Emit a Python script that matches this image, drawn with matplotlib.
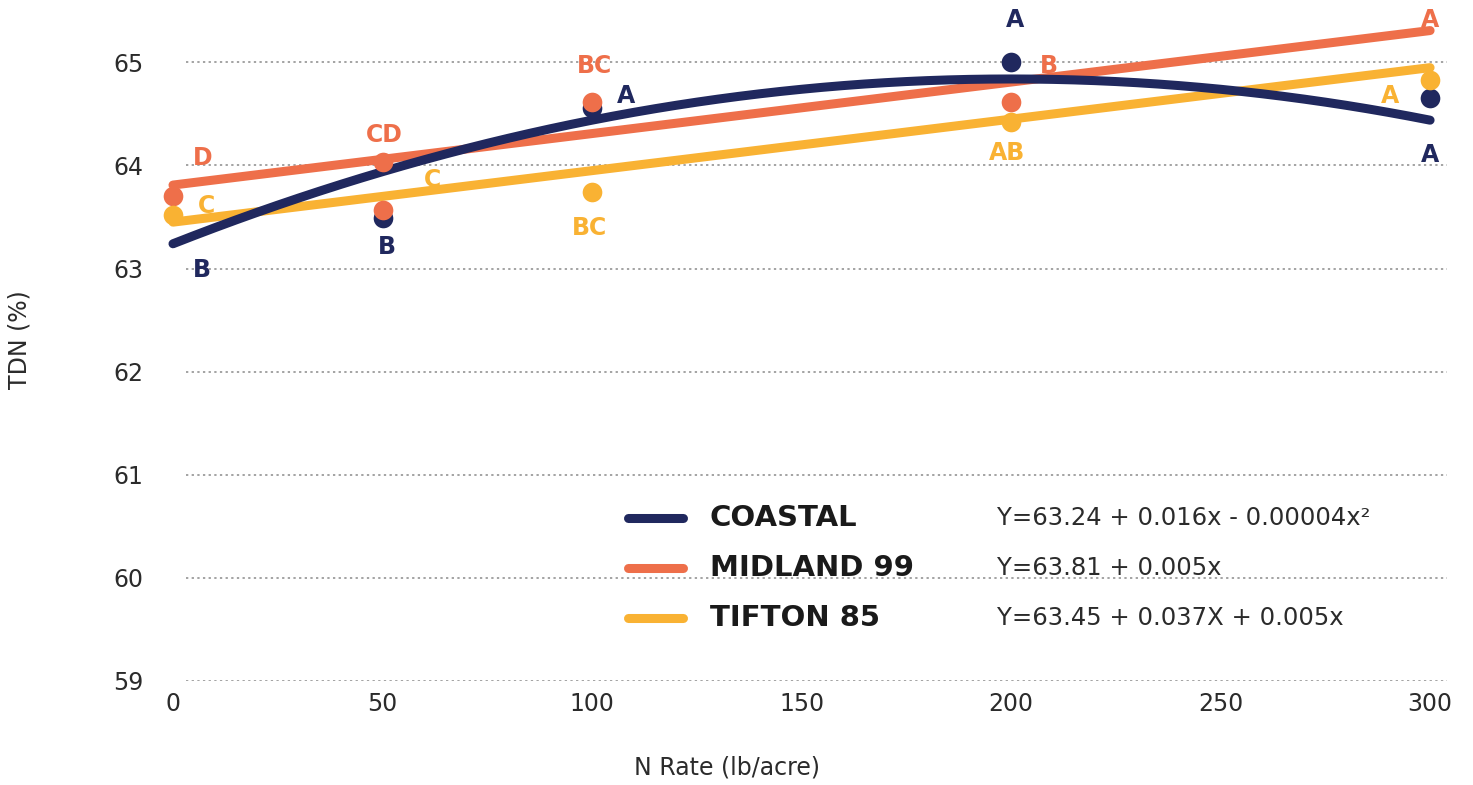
import matplotlib
matplotlib.use("Agg")
import matplotlib.pyplot as plt
import numpy as np

plt.rcParams["font.family"] = ["DejaVu Sans"]

NAVY = "#20285e"
ORANGE = "#ee6f4a"
GOLD = "#f9b233"
TEXT = "#2b2b2b"

# Observed means per variety (N rate lb/acre, TDN %)
coastal_x = [50, 100, 200, 300]
coastal_y = [63.49, 64.56, 65.00, 64.66]
midland_x = [0, 50, 50, 100, 200]
midland_y = [63.70, 64.03, 63.57, 64.62, 64.62]
tifton_x = [0, 100, 200, 300]
tifton_y = [63.52, 63.74, 64.42, 64.83]

# Mean separation letters
coastal_letters = ["B", "B", "A", "A", "A"]
midland_letters = ["D", "CD", "BC", "B", "A"]
tifton_letters = ["C", "C", "BC", "AB", "A"]

# Regression coefficients (intercept, linear, quadratic)
coastal_fit = [63.24, 0.016, -0.00004]
midland_fit = [63.81, 0.005, 0.0]
tifton_fit = [63.45, 0.005, 0.0]

names = ["COASTAL", "MIDLAND 99", "TIFTON 85"]
equations = ["Y=63.24 + 0.016x - 0.00004x\u00b2",
             "Y=63.81 + 0.005x",
             "Y=63.45 + 0.037X + 0.005x"]

x_ticks = [0, 50, 100, 150, 200, 250, 300]
y_ticks = [59, 60, 61, 62, 63, 64, 65]

# where the letters sit (data coords)
coastal_lpos = [(7, 62.99), (51, 63.21), (108, 64.67), (201, 65.41), (300, 64.10)]
midland_lpos = [(7, 64.07), (50.5, 64.30), (100.5, 64.97), (209, 64.97), (300, 65.41)]
tifton_lpos = [(8, 63.61), (62, 63.86), (99.5, 63.39), (199, 64.12), (290.5, 64.67)]

fig = plt.figure(figsize=(14.73, 7.85), dpi=100)
ax = fig.add_axes([0.1089, 0.1331, 0.8762, 0.8529])
ax.set_xlim(-3, 305)
ax.set_ylim(59, 65.5)

# dotted gridlines, starting a little right of x=0
ax.hlines(y_ticks, 3, 304, colors="#8a8a8a", linewidth=1.1,
          linestyles=(0, (1.5, 2.2)), zorder=1)

xs = np.linspace(0, 300, 301)
series = [
    (coastal_fit, coastal_x, coastal_y, coastal_letters, coastal_lpos, NAVY),
    (midland_fit, midland_x, midland_y, midland_letters, midland_lpos, ORANGE),
    (tifton_fit, tifton_x, tifton_y, tifton_letters, tifton_lpos, GOLD),
]

# fitted curves
for z, (fit, px, py, letters, lpos, col) in zip([4, 3, 2], series):
    yfit = fit[0] + fit[1] * xs + fit[2] * xs ** 2
    ax.plot(xs, yfit, color=col, lw=6.5, solid_capstyle="round", zorder=z)

# points: navy first, then orange, then gold on top
for z, (fit, px, py, letters, lpos, col) in zip([6, 7, 8], series):
    ax.scatter(px, py, s=200, color=col, zorder=z, clip_on=False, linewidths=0)
    for lab, (lx, ly) in zip(letters, lpos):
        ax.text(lx, ly, lab, color=col, fontsize=17, fontweight="bold",
                ha="center", va="center", zorder=10, clip_on=False)

ax.set_xticks(x_ticks)
ax.set_yticks(y_ticks)
ax.tick_params(length=0, labelsize=17, labelcolor=TEXT)
ax.tick_params(axis="y", pad=12)
ax.tick_params(axis="x", pad=8)
for s in ax.spines.values():
    s.set_visible(False)

# legend drawn by hand: swatch, bold name, equation
leg_y = [0.2427, 0.168, 0.0934]
for name, eq, col, yy in zip(names, equations, [NAVY, ORANGE, GOLD], leg_y):
    ax.plot([0.362, 0.405], [yy, yy], transform=ax.transAxes, color=col,
            lw=6.5, solid_capstyle="round", zorder=5)
    ax.text(0.4258, yy, name, transform=ax.transAxes, fontsize=21,
            fontweight="bold", color="#1a1a1a", va="center", ha="left")
    ax.text(0.648, yy, eq, transform=ax.transAxes, fontsize=17.5,
            color=TEXT, va="center", ha="left")

fig.text(20 / 1473, 1 - 340 / 785, "TDN (%)", rotation=90, fontsize=17,
         color=TEXT, ha="center", va="center")
fig.text(727 / 1473, 1 - 768 / 785, "N Rate (lb/acre)", fontsize=17,
         color=TEXT, ha="center", va="center")

fig.savefig("out.png", dpi=100)
